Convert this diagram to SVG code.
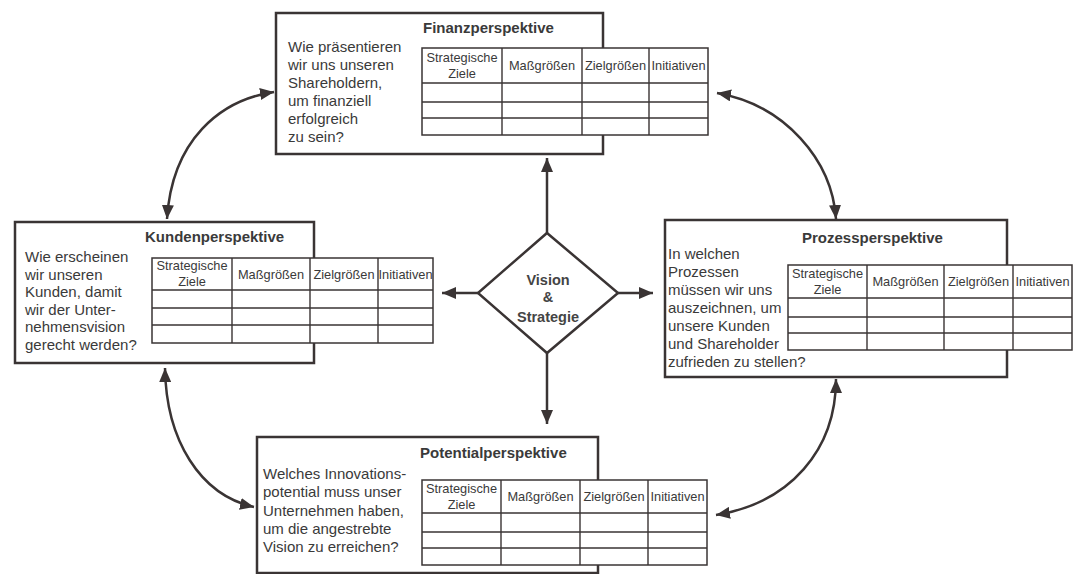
<svg xmlns="http://www.w3.org/2000/svg" width="1080" height="574" viewBox="0 0 1080 574">
<defs>
<marker id="ah" viewBox="0 0 14 12" refX="14" refY="6" markerWidth="14" markerHeight="12" markerUnits="userSpaceOnUse" orient="auto-start-reverse">
<path d="M0,0 L14,6 L0,12 Z" fill="#3a3434"/>
</marker>
<style>
.box{fill:#fff;stroke:#3a3434;stroke-width:2.5}
.tbl{fill:#fff;stroke:#3a3434;stroke-width:1.5}
.ln{stroke:#3a3434;stroke-width:1.4;fill:none}
.q{font-family:"Liberation Sans",Arial,sans-serif;font-size:15px;fill:#3a3a3a}
.t{font-family:"Liberation Sans",Arial,sans-serif;font-size:15px;font-weight:bold;fill:#3a3a3a}
.h{font-family:"Liberation Sans",Arial,sans-serif;font-size:12.8px;fill:#3a3a3a;text-anchor:middle}
.c{stroke:#3a3434;stroke-width:2.5;fill:none;marker-start:url(#ah);marker-end:url(#ah)}
.s{stroke:#3a3434;stroke-width:2.5;fill:none;marker-end:url(#ah)}
.v{font-family:"Liberation Sans",Arial,sans-serif;font-size:14.5px;font-weight:bold;fill:#444;text-anchor:middle}
</style>
</defs>
<rect width="1080" height="574" fill="#fff"/>

<g id="connectors">
<path class="c" d="M274,92 C220,100 172,140 167,219"/>
<path class="c" d="M717,93 C785,105 832,160 836,219"/>
<path class="c" d="M165,368 C166,440 200,495 254,507"/>
<path class="c" d="M836,379 C836,450 790,503 716,515"/>
<path class="s" d="M547,233 L547,158"/>
<path class="s" d="M478,293 L442,293"/>
<path class="s" d="M618,293 L653,293"/>
<path class="s" d="M547,353 L547,424"/>
</g>

<g id="vision">
<polygon points="547,233 618,293 547,353 478,293" fill="#fff" stroke="#3a3434" stroke-width="2.5"/>
<text class="v" x="548" y="285">Vision</text>
<text class="v" x="548" y="302">&amp;</text>
<text class="v" x="548" y="322">Strategie</text>
</g>

<g id="finanz">
<rect class="box" x="276" y="13" width="327" height="141"/>
<text class="t" x="423" y="33">Finanzperspektive</text>
<text class="q" x="288" y="52">Wie präsentieren</text>
<text class="q" x="288" y="70">wir uns unseren</text>
<text class="q" x="288" y="88">Shareholdern,</text>
<text class="q" x="288" y="106">um finanziell</text>
<text class="q" x="288" y="124">erfolgreich</text>
<text class="q" x="288" y="142">zu sein?</text>
<rect class="tbl" x="422" y="48" width="286" height="87"/>
<path class="ln" d="M422,83 H708 M422,102 H708 M422,118 H708 M502,48 V135 M582,48 V135 M649,48 V135"/>
<text class="h" x="462" y="61.5">Strategische</text>
<text class="h" x="462" y="77.5">Ziele</text>
<text class="h" x="542" y="70">Maßgrößen</text>
<text class="h" x="615.5" y="70">Zielgrößen</text>
<text class="h" x="678.5" y="70">Initiativen</text>
</g>

<g id="kunden">
<rect class="box" x="15" y="222" width="299" height="141"/>
<text class="t" x="145" y="242">Kundenperspektive</text>
<text class="q" x="25" y="262">Wie erscheinen</text>
<text class="q" x="25" y="279.5">wir unseren</text>
<text class="q" x="25" y="297">Kunden, damit</text>
<text class="q" x="25" y="314.5">wir der Unter-</text>
<text class="q" x="25" y="332">nehmensvision</text>
<text class="q" x="25" y="349.5">gerecht werden?</text>
<rect class="tbl" x="152" y="258" width="281" height="85"/>
<path class="ln" d="M152,290 H433 M152,308 H433 M152,325 H433 M232,258 V343 M310,258 V343 M378,258 V343"/>
<text class="h" x="192" y="270">Strategische</text>
<text class="h" x="192" y="286">Ziele</text>
<text class="h" x="271" y="278.5">Maßgrößen</text>
<text class="h" x="344" y="278.5">Zielgrößen</text>
<text class="h" x="405.5" y="278.5">Initiativen</text>
</g>

<g id="prozess">
<rect class="box" x="665" y="220" width="342" height="157"/>
<text class="t" x="802" y="243">Prozessperspektive</text>
<text class="q" x="668" y="259">In welchen</text>
<text class="q" x="668" y="277">Prozessen</text>
<text class="q" x="668" y="295">müssen wir uns</text>
<text class="q" x="668" y="313">auszeichnen, um</text>
<text class="q" x="668" y="331">unsere Kunden</text>
<text class="q" x="668" y="349">und Shareholder</text>
<text class="q" x="668" y="367">zufrieden zu stellen?</text>
<rect class="tbl" x="788" y="265" width="284" height="85"/>
<path class="ln" d="M788,298 H1072 M788,317 H1072 M788,333 H1072 M867,265 V350 M944,265 V350 M1013,265 V350"/>
<text class="h" x="827.5" y="277.5">Strategische</text>
<text class="h" x="827.5" y="293.5">Ziele</text>
<text class="h" x="905.5" y="286">Maßgrößen</text>
<text class="h" x="978.5" y="286">Zielgrößen</text>
<text class="h" x="1042.5" y="286">Initiativen</text>
</g>

<g id="potential">
<rect class="box" x="257" y="437" width="341" height="136"/>
<text class="t" x="420" y="458">Potentialperspektive</text>
<text class="q" x="263" y="479">Welches Innovations-</text>
<text class="q" x="263" y="497">potential muss unser</text>
<text class="q" x="263" y="515.5">Unternehmen haben,</text>
<text class="q" x="263" y="533.5">um die angestrebte</text>
<text class="q" x="263" y="552">Vision zu erreichen?</text>
<rect class="tbl" x="422" y="480" width="285" height="85"/>
<path class="ln" d="M422,513 H707 M422,532 H707 M422,548 H707 M501,480 V565 M580,480 V565 M648,480 V565"/>
<text class="h" x="461.5" y="492.5">Strategische</text>
<text class="h" x="461.5" y="508.5">Ziele</text>
<text class="h" x="540.5" y="501">Maßgrößen</text>
<text class="h" x="614" y="501">Zielgrößen</text>
<text class="h" x="677.5" y="501">Initiativen</text>
</g>
</svg>
